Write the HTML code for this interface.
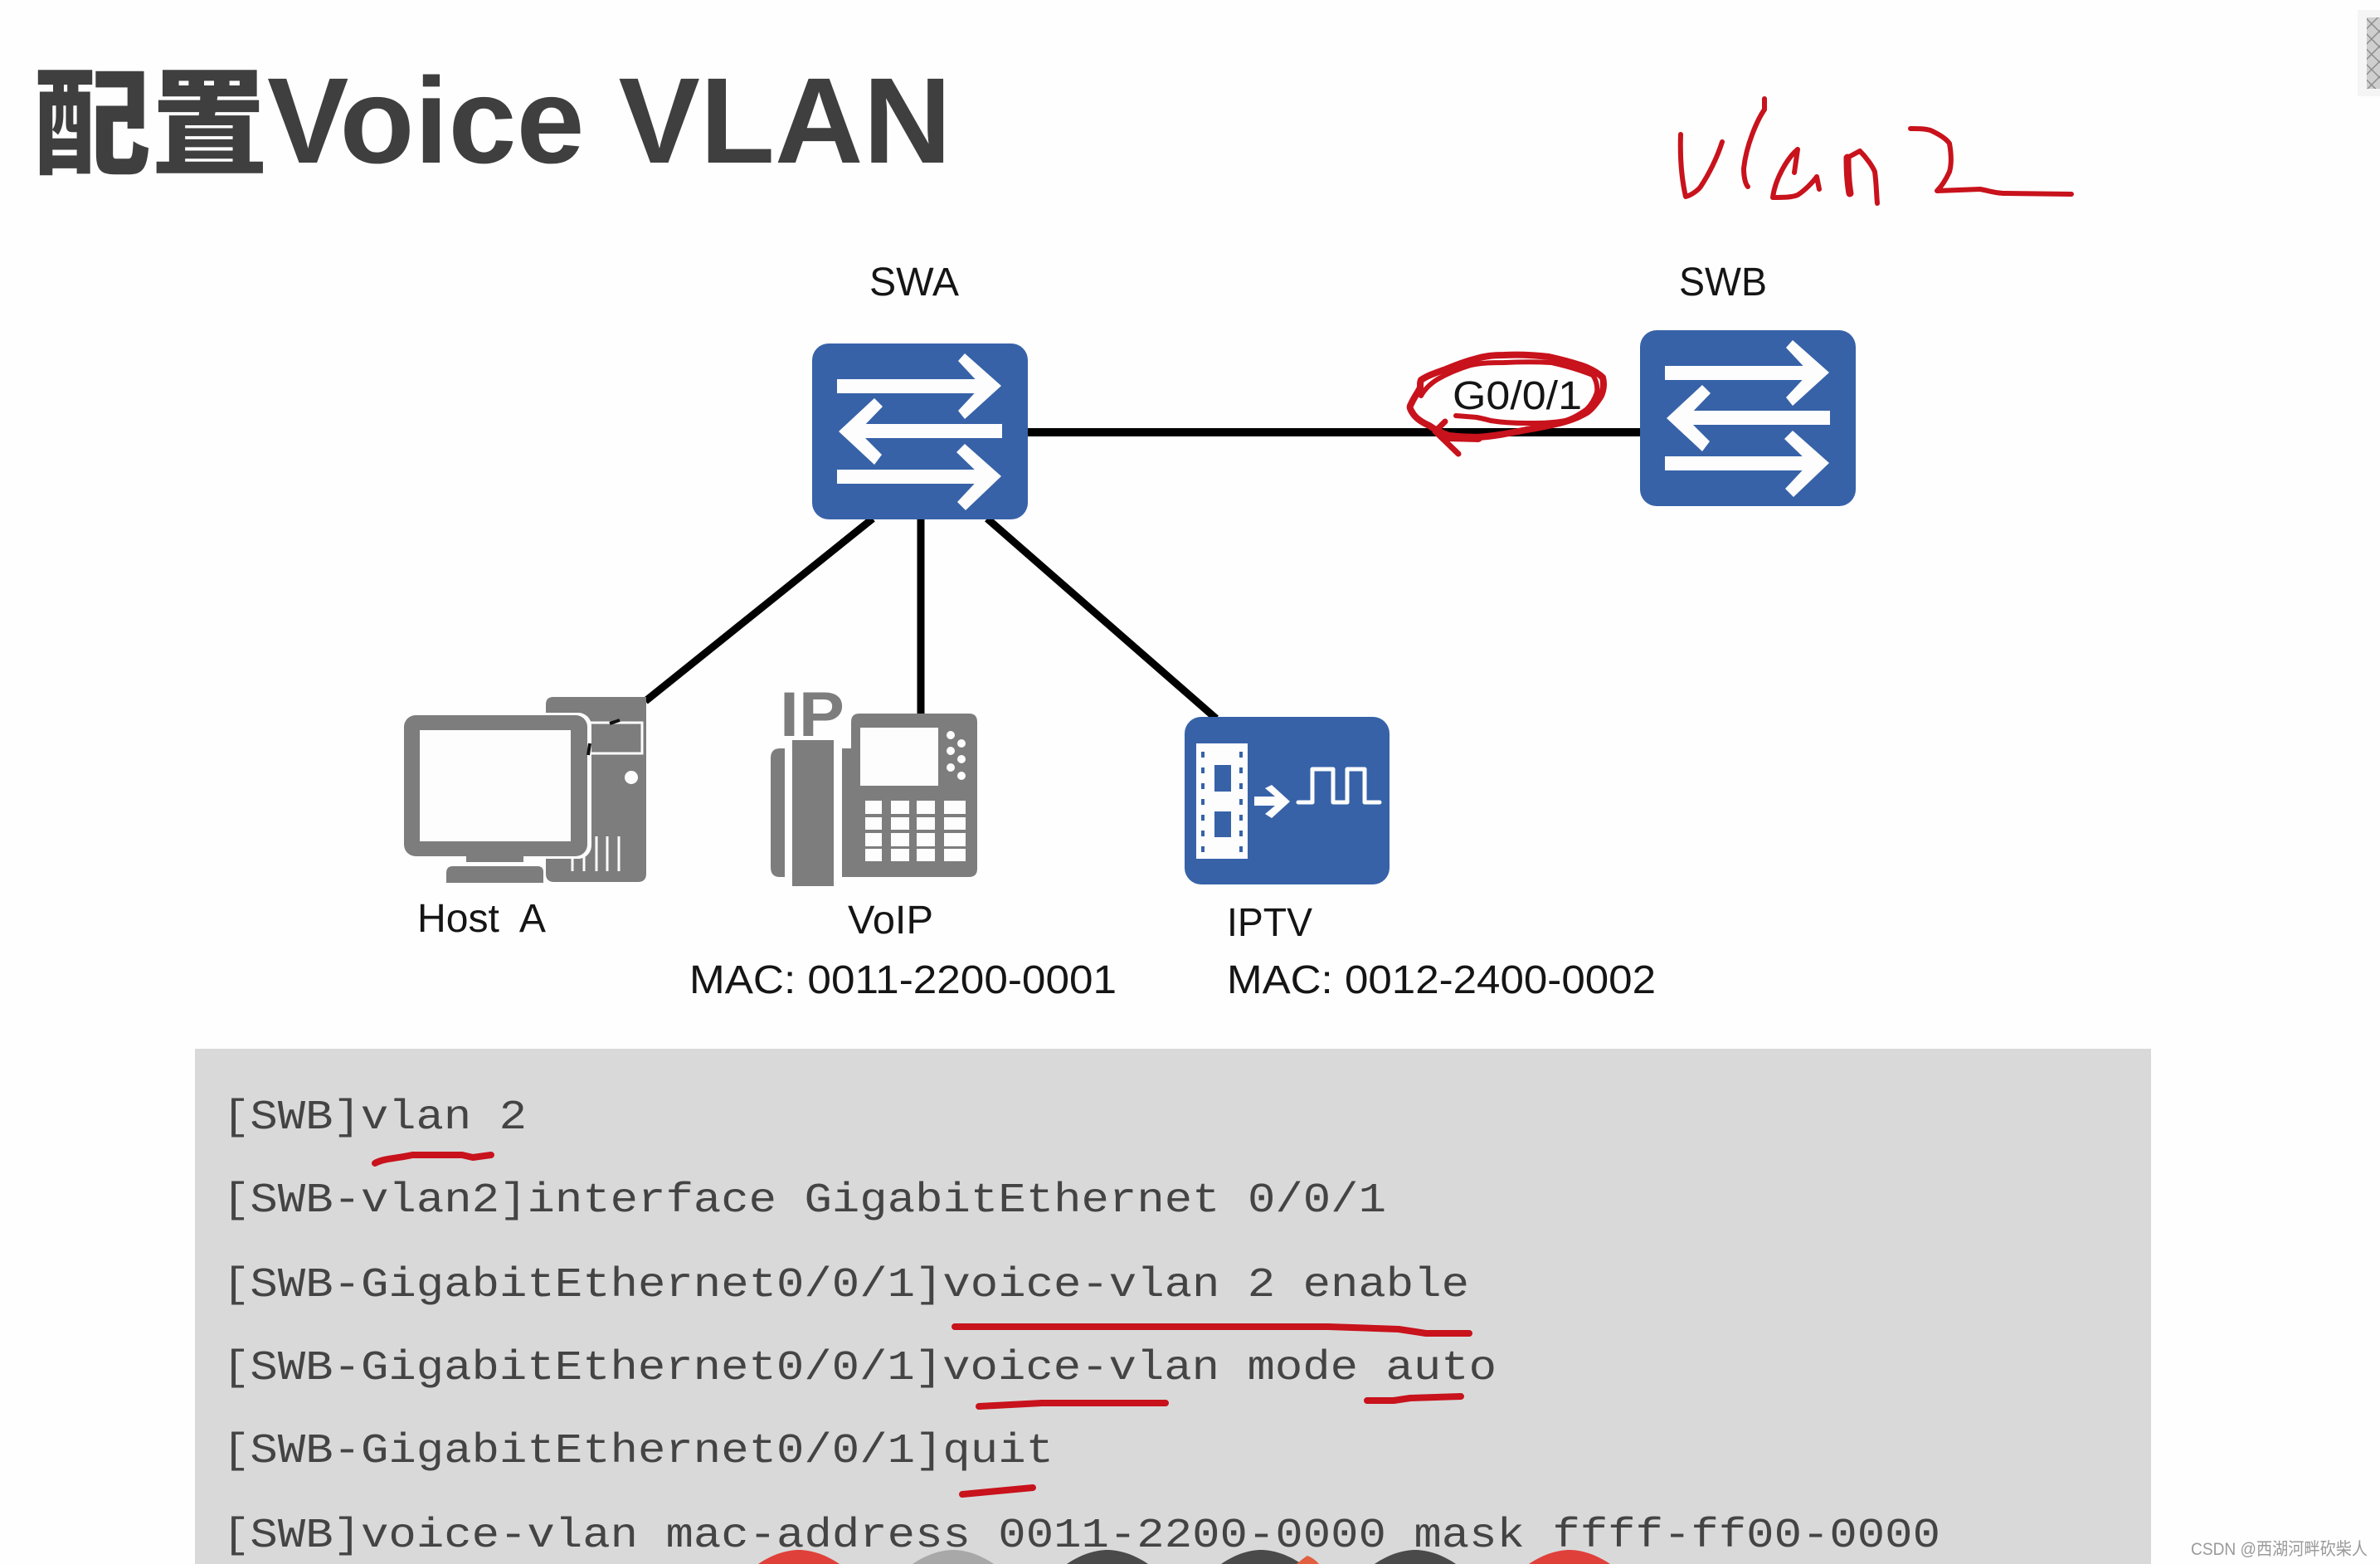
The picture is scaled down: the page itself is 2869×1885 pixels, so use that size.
<!DOCTYPE html>
<html><head><meta charset="utf-8">
<style>
html,body{margin:0;padding:0;background:#fefefe;overflow:hidden;width:2869px;height:1885px}
svg{display:block}
.t{font-family:"Liberation Sans","Noto Sans CJK SC",sans-serif;fill:#151515;font-size:48px}
.c{font-family:"Liberation Mono",monospace;fill:#444;font-size:50px}
.r{fill:none;stroke:#c8121c;stroke-linecap:round;stroke-linejoin:round}
</style></head>
<body>
<svg width="2869" height="1885" viewBox="0 0 2869 1885" xmlns="http://www.w3.org/2000/svg">
<defs>
<pattern id="h" width="13" height="13" patternUnits="userSpaceOnUse" patternTransform="rotate(45)">
<rect width="13" height="13" fill="#cfcfcf"/><path d="M0 0H13M0 0V13" stroke="#8e8e8e" stroke-width="3"/>
</pattern>
<g id="sw">
<rect x="979" y="414" width="260" height="212" rx="20" fill="#3762a8"/>
<g fill="#fdfdfd">
<rect x="1009" y="457" width="180" height="17"/>
<polygon points="1163,426 1207,465 1163,505 1155,495 1183,465 1155,435"/>
<rect x="1035" y="511" width="173" height="17"/>
<polygon points="1054,480 1064,490 1035,520 1063,548 1054,560 1011,520"/>
<rect x="1009" y="566" width="180" height="17"/>
<polygon points="1163,535 1207,574 1164,615 1154,605 1183,574 1153,545"/>
</g>
</g>
</defs>
<rect width="2869" height="1885" fill="#fefefe"/>

<!-- title -->
<text x="41" y="199" font-family="'Noto Sans CJK SC',sans-serif" font-weight="900" font-size="140" fill="#3f3f3f" textLength="282" lengthAdjust="spacingAndGlyphs">配置</text>
<text x="322" y="196" font-family="'Liberation Sans',sans-serif" font-weight="700" font-size="147" fill="#3f3f3f" textLength="825" lengthAdjust="spacingAndGlyphs">Voice VLAN</text>

<!-- top right hatch -->
<rect x="2842" y="12" width="27" height="104" fill="#f5f5f5"/>
<rect x="2853" y="21" width="16" height="86" fill="url(#h)"/>

<!-- connectors -->
<g stroke="#000" fill="none">
<line x1="1238" y1="521" x2="1977" y2="521" stroke-width="10"/>
<line x1="1052" y1="625" x2="778" y2="845" stroke-width="9"/>
<line x1="1110" y1="625" x2="1110" y2="860" stroke-width="9"/>
<line x1="1190" y1="625" x2="1466" y2="866" stroke-width="9"/>
</g>

<!-- switches -->
<use href="#sw"/>
<use href="#sw" transform="translate(998,-16)"/>

<!-- host -->
<g>
<path d="M667 840H779V1053q0 10-10 10H668q-10 0-10-10V1035H700V880Q700 868 688 868H658V849q0-9 9-9Z" fill="#7d7d7d"/>
<path d="M711 871H774V908H711Z" fill="none" stroke="#fdfdfd" stroke-width="3"/>
<circle cx="761" cy="937" r="8" fill="#fdfdfd"/>
<g stroke="#fdfdfd" stroke-width="3">
<line x1="690" y1="1008" x2="690" y2="1050"/><line x1="704" y1="1008" x2="704" y2="1050"/><line x1="719" y1="1008" x2="719" y2="1050"/><line x1="732" y1="1008" x2="732" y2="1050"/><line x1="746" y1="1008" x2="746" y2="1050"/>
</g>
<rect x="484" y="859" width="229" height="176" rx="16" fill="#fdfdfd"/>
<rect x="487" y="862" width="221" height="170" rx="14" fill="#7d7d7d"/>
<rect x="506" y="880" width="182" height="134" fill="#fdfdfd"/>
<rect x="562" y="1032" width="69" height="7" fill="#7d7d7d"/>
<path d="M546 1044H648q7 0 7 7V1064H538V1052q0-8 8-8Z" fill="#7d7d7d"/>
<path d="M735 872l12-4M709 910l2-14" stroke="#111" stroke-width="4" fill="none"/>
</g>

<!-- phone -->
<g fill="#7d7d7d">
<text x="940" y="887" font-family="'Liberation Sans',sans-serif" font-weight="700" font-size="76" textLength="78" lengthAdjust="spacingAndGlyphs">IP</text>
<path d="M946 902V1057H940q-11 0-11-12V914q0-12 11-12Z"/>
<rect x="955" y="892" width="50" height="176"/>
<path d="M1036 860H1168q10 0 10 10V1047q0 10-10 10H1015V902H1026V870q0-10 10-10Z"/>
</g>
<g fill="#fdfdfd">
<rect x="1037" y="877" width="94" height="70"/>
<circle cx="1146" cy="886" r="5"/><circle cx="1159" cy="896" r="5"/><circle cx="1146" cy="905" r="5"/><circle cx="1159" cy="915" r="5"/><circle cx="1146" cy="925" r="5"/><circle cx="1159" cy="935" r="5"/>
<rect x="1043" y="965" width="20" height="16"/><rect x="1074" y="965" width="22" height="16"/><rect x="1105" y="965" width="22" height="16"/><rect x="1138" y="965" width="26" height="16"/>
<rect x="1043" y="985" width="20" height="15"/><rect x="1074" y="985" width="22" height="15"/><rect x="1105" y="985" width="22" height="15"/><rect x="1138" y="985" width="26" height="15"/>
<rect x="1043" y="1004" width="20" height="16"/><rect x="1074" y="1004" width="22" height="16"/><rect x="1105" y="1004" width="22" height="16"/><rect x="1138" y="1004" width="26" height="16"/>
<rect x="1043" y="1023" width="20" height="15"/><rect x="1074" y="1023" width="22" height="15"/><rect x="1105" y="1023" width="22" height="15"/><rect x="1138" y="1023" width="26" height="15"/>
</g>

<!-- IPTV -->
<rect x="1428" y="864" width="247" height="202" rx="20" fill="#3762a8"/>
<rect x="1442" y="896" width="62" height="139" fill="#fdfdfd"/>
<g fill="#3762a8">
<rect x="1464" y="922" width="20" height="32"/><rect x="1464" y="978" width="20" height="31"/>
<rect x="1448" y="906" width="4" height="7"/><rect x="1448" y="925" width="4" height="7"/><rect x="1448" y="944" width="4" height="7"/><rect x="1448" y="963" width="4" height="7"/><rect x="1448" y="982" width="4" height="7"/><rect x="1448" y="1001" width="4" height="7"/><rect x="1448" y="1020" width="4" height="7"/>
<rect x="1494" y="906" width="4" height="7"/><rect x="1494" y="925" width="4" height="7"/><rect x="1494" y="944" width="4" height="7"/><rect x="1494" y="963" width="4" height="7"/><rect x="1494" y="982" width="4" height="7"/><rect x="1494" y="1001" width="4" height="7"/><rect x="1494" y="1020" width="4" height="7"/>
</g>
<polygon points="1512,960 1537,960 1525,950 1533,946 1555,966 1533,986 1525,981 1537,971 1512,971" fill="#fdfdfd"/>
<polyline points="1565,967 1582,967 1582,927 1607,927 1607,967 1624,967 1624,927 1645,927 1645,967 1663,967" fill="none" stroke="#fdfdfd" stroke-width="5" stroke-linejoin="round" stroke-linecap="round"/>

<!-- labels -->
<text class="t" x="1048" y="356" textLength="108" lengthAdjust="spacingAndGlyphs">SWA</text>
<text class="t" x="2024" y="356" textLength="106" lengthAdjust="spacingAndGlyphs">SWB</text>
<text class="t" x="1751" y="493" textLength="156" lengthAdjust="spacingAndGlyphs">G0/0/1</text>
<text class="t" x="503" y="1123" textLength="155" lengthAdjust="spacingAndGlyphs" xml:space="preserve">Host  A</text>
<text class="t" x="1022" y="1125" textLength="103" lengthAdjust="spacingAndGlyphs">VoIP</text>
<text class="t" x="1479" y="1128" textLength="103" lengthAdjust="spacingAndGlyphs">IPTV</text>
<text class="t" x="831" y="1197" textLength="515" lengthAdjust="spacingAndGlyphs">MAC: 0011-2200-0001</text>
<text class="t" x="1479" y="1197" textLength="517" lengthAdjust="spacingAndGlyphs">MAC: 0012-2400-0002</text>

<!-- panel -->
<rect x="235" y="1264" width="2358" height="621" fill="#d9d9d9"/>
<text class="c" x="268" y="1360" textLength="367" lengthAdjust="spacingAndGlyphs">[SWB]vlan 2</text>
<text class="c" x="268" y="1460" textLength="1403" lengthAdjust="spacingAndGlyphs">[SWB-vlan2]interface GigabitEthernet 0/0/1</text>
<text class="c" x="268" y="1562" textLength="1503" lengthAdjust="spacingAndGlyphs">[SWB-GigabitEthernet0/0/1]voice-vlan 2 enable</text>
<text class="c" x="268" y="1662" textLength="1536" lengthAdjust="spacingAndGlyphs">[SWB-GigabitEthernet0/0/1]voice-vlan mode auto</text>
<text class="c" x="268" y="1762" textLength="1002" lengthAdjust="spacingAndGlyphs">[SWB-GigabitEthernet0/0/1]quit</text>
<text class="c" x="268" y="1864" textLength="2071" lengthAdjust="spacingAndGlyphs">[SWB]voice-vlan mac-address 0011-2200-0000 mask ffff-ff00-0000</text>

<!-- bottom toolbar circles -->
<path d="M914 1885C933 1872 951 1868 963 1868C975 1868 993 1872 1012 1885Z" fill="#e0403a"/>
<path d="M1100 1885C1119 1872 1137 1868 1149 1868C1161 1868 1179 1872 1198 1885Z" fill="#a8a8a8"/>
<path d="M1286 1885C1305 1872 1323 1868 1335 1868C1347 1868 1365 1872 1384 1885Z" fill="#4a4a4a"/>
<path d="M1472 1885C1491 1872 1508 1868 1520 1868C1532 1868 1550 1872 1569 1885Z" fill="#4a4a4a"/>
<path d="M1657 1885C1676 1872 1694 1868 1706 1868C1718 1868 1736 1872 1755 1885Z" fill="#4a4a4a"/>
<path d="M1843 1885C1862 1872 1880 1868 1892 1868C1904 1868 1922 1872 1941 1885Z" fill="#e0403a"/>
<path d="M1563 1885Q1571 1878 1576 1875Q1584 1878 1590 1885Z" fill="#e0603f"/>

<!-- red pen annotations -->
<g class="r" stroke-width="6">
<path d="M2026 162C2025 190 2027 215 2032 237C2040 235 2048 228 2050 225C2060 210 2070 190 2076 171"/>
<path d="M2127 119L2127 132C2118 145 2105 175 2102 203C2102 213 2104 222 2107 225"/>
<path d="M2167 180C2155 190 2140 215 2137 238C2150 238 2160 238 2167 235C2175 230 2185 220 2190 213L2193 228M2167 180L2163 208"/>
<path d="M2227 190C2227 205 2228 222 2230 233" stroke-width="9"/>
<path d="M2227 190L2242 182C2250 190 2257 200 2260 207C2262 222 2262 235 2263 245"/>
<path d="M2303 155C2312 155 2320 155 2327 157C2338 162 2346 167 2350 173C2353 190 2352 200 2350 207C2345 218 2340 225 2335 230L2387 228C2398 230 2405 233 2417 233L2497 234"/>
</g>
<g class="r" stroke-width="8">
<path d="M1723 513C1712 508 1706 503 1703 498C1699 492 1699 490 1701 487C1705 478 1710 472 1712 467C1712 462 1712 460 1713 458C1722 452 1732 449 1743 445C1755 440 1765 436 1777 433C1790 429 1800 428 1813 428C1833 427 1850 428 1867 430C1885 434 1900 438 1913 443C1922 447 1928 451 1932 455C1934 463 1933 470 1930 477C1925 485 1920 492 1913 497C1903 503 1892 507 1880 510C1867 513 1853 516 1840 518C1820 522 1800 526 1780 527C1768 527 1757 526 1747 525C1738 522 1730 518 1723 513"/>
<path d="M1713 477C1718 468 1725 462 1733 457C1745 450 1760 444 1773 440C1788 437 1800 437 1813 437C1833 436 1852 436 1870 437C1888 441 1905 446 1920 452C1924 458 1926 465 1925 473C1922 482 1918 488 1913 493C1905 499 1897 504 1887 507C1872 510 1856 510 1840 510C1825 510 1810 509 1797 507C1790 505 1785 504 1780 503L1755 501" stroke-width="6"/>
<path d="M1742 508L1730 520L1758 547" stroke-width="7"/>
<path d="M1745 527L1782 528" stroke-width="10"/>
</g>
<g class="r" stroke-width="8" stroke-linecap="butt">
<path d="M452 1402C462 1396 480 1396 497 1392L557 1392L570 1395L592 1392"/>
<path d="M1151 1599H1601L1686 1602L1719 1607H1771"/>
<path d="M1180 1695L1256 1691H1405"/>
<path d="M1648 1688L1680 1688L1700 1685L1761 1683"/>
<path d="M1160 1801L1245 1793"/>
</g>

<!-- watermark -->
<text x="2641" y="1874" font-family="'Liberation Sans','Noto Sans CJK SC',sans-serif" font-size="21" fill="#9a9a9a" textLength="213" lengthAdjust="spacingAndGlyphs">CSDN @西湖河畔砍柴人</text>
</svg>
</body></html>
